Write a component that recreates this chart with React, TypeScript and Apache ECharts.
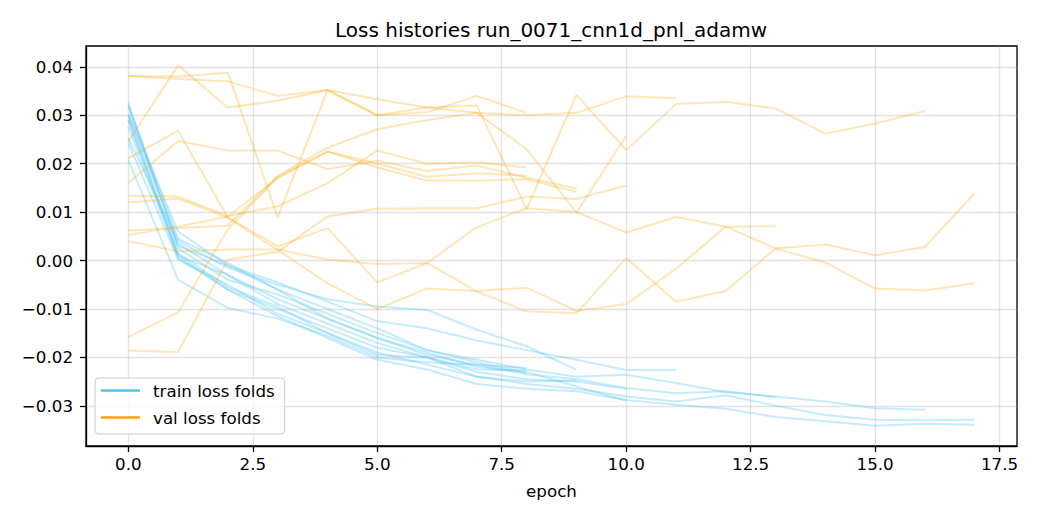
import React, { useEffect, useRef } from "react";
import * as echarts from "echarts";

// ---- data (epoch index = position in array) ----
const trainLoss: number[][] = [
  [0.0318, 0.0030, -0.0010, -0.0045, -0.0085, -0.0125, -0.0140, -0.0165, -0.0185, -0.0205, -0.0226, -0.0226],
  [0.0290, 0.0010, -0.0030, -0.0080, -0.0120, -0.0160, -0.0195, -0.0215, -0.0222],
  [0.0326, 0.0025, -0.0040, -0.0070, -0.0110, -0.0150, -0.0185, -0.0205, -0.0225, -0.0240, -0.0236, -0.0253, -0.0272, -0.0281, -0.0291, -0.0305, -0.0308],
  [0.0276, 0.0005, -0.0060, -0.0100, -0.0140, -0.0180, -0.0200, -0.0230, -0.0245, -0.0250, -0.0265],
  [0.0301, 0.0040, -0.0015, -0.0050, -0.0080, -0.0095, -0.0102, -0.0143, -0.0177, -0.0226],
  [0.0253, 0.0035, -0.0030, -0.0090, -0.0130, -0.0170, -0.0200, -0.0225, -0.0227],
  [0.0243, 0.0002, -0.0050, -0.0110, -0.0150, -0.0190, -0.0215, -0.0240, -0.0250, -0.0248],
  [0.0304, 0.0060, -0.0010, -0.0060, -0.0120, -0.0160, -0.0190, -0.0220, -0.0230, -0.0260, -0.0289],
  [0.0208, -0.0040, -0.0098, -0.0120, -0.0155, -0.0200, -0.0210, -0.0215, -0.0235, -0.0245, -0.0263, -0.0274, -0.0270, -0.0282],
  [0.0300, 0.0015, -0.0055, -0.0095, -0.0150, -0.0195, -0.0200, -0.0240, -0.0255, -0.0265, -0.0281, -0.0291, -0.0278, -0.0300, -0.0319, -0.0329, -0.0330, -0.0329],
  [0.0290, 0.0010, -0.0060, -0.0115, -0.0160, -0.0205, -0.0225, -0.0255, -0.0265, -0.0270, -0.0288, -0.0298, -0.0306, -0.0323, -0.0332, -0.0341, -0.0337, -0.0339],
  [0.0320, 0.0045, -0.0005, -0.0060, -0.0100, -0.0140, -0.0185, -0.0210, -0.0232],
];

const valLoss: number[][] = [
  [0.0381, 0.0375, 0.0370, 0.0340, 0.0352, 0.0333, 0.0316, 0.0305, 0.0300, 0.0305, 0.0339, 0.0335],
  [0.0381, 0.0380, 0.0388, 0.0089, 0.0352, 0.0300, 0.0306, 0.0340, 0.0305],
  [0.0246, 0.0403, 0.0316, 0.0330, 0.0352, 0.0300, 0.0316, 0.0320, 0.0106, 0.0342, 0.0228, 0.0323, 0.0328, 0.0314, 0.0262, 0.0283, 0.0309],
  [0.0062, 0.0067, 0.0072, 0.0175, 0.0233, 0.0271, 0.0290, 0.0305, 0.0230, 0.0099, 0.0257],
  [0.0160, 0.0247, 0.0227, 0.0227, 0.0189, 0.0206, 0.0185, 0.0196, 0.0171, 0.0149],
  [0.0134, 0.0132, 0.0092, 0.0112, 0.0160, 0.0227, 0.0200, 0.0203, 0.0192],
  [0.0053, 0.0070, 0.0091, 0.0170, 0.0225, 0.0192, 0.0165, 0.0165, 0.0168, 0.0142],
  [-0.0186, -0.0189, 0.0002, 0.0018, 0.0091, 0.0107, 0.0108, 0.0108, 0.0132, 0.0127, 0.0155],
  [0.0211, 0.0268, 0.0089, 0.0029, 0.0067, -0.0045, -0.0005, 0.0069, 0.0108, 0.0100, 0.0058, 0.0090, 0.0070, 0.0071],
  [0.0120, 0.0128, 0.0088, 0.0022, -0.0047, -0.0100, -0.0058, -0.0063, -0.0056, -0.0104, -0.0090, -0.0017, 0.0070, 0.0025, -0.0004, -0.0058, -0.0062, -0.0047],
  [0.0040, 0.0019, 0.0023, 0.0023, 0.0002, -0.0007, -0.0005, -0.0064, -0.0105, -0.0109, 0.0005, -0.0085, -0.0063, 0.0025, 0.0033, 0.0011, 0.0028, 0.0139],
  [-0.0158, -0.0107, 0.0064, 0.0172, 0.0225, 0.0200, 0.0173, 0.0180, 0.0175],
];

const xTicks = [0, 2.5, 5, 7.5, 10, 12.5, 15, 17.5];
const yTicks = [-0.03, -0.02, -0.01, 0, 0.01, 0.02, 0.03, 0.04];

const TITLE = "Loss histories run_0071_cnn1d_pnl_adamw";
const TRAIN_NAME = "train loss folds";
const VAL_NAME = "val loss folds";
const TRAIN_COLOR = "#4FC3F7";
const VAL_COLOR = "#FFA500";
const FONT = "DejaVu Sans";
const LEGEND_ICON = "path://M0,0 L39,0 L39,2.5 L0,2.5 Z";

function fmtX(v: number) {
  return v.toFixed(1);
}
function fmtY(v: number) {
  const r = Math.round(v * 100) / 100;
  if (Math.abs(r) < 1e-9) return "0.00";
  return (r < 0 ? "\u2212" : "") + Math.abs(r).toFixed(2);
}

export default function App() {
  const ref = useRef<HTMLDivElement>(null);

  useEffect(() => {
    if (!ref.current) return;
    const chart = echarts.init(ref.current, undefined, { renderer: "svg" });

    const series: any[] = [];
    trainLoss.forEach((vals, i) => {
      series.push({
        type: "line",
        name: `train fold ${i + 1}`,
        data: vals.map((v, e) => [e, v]),
        symbol: "none",
        showSymbol: false,
        silent: true,
        lineStyle: { color: TRAIN_COLOR, width: 2, opacity: 0.32 },
        itemStyle: { color: TRAIN_COLOR },
        z: 2,
      });
    });
    valLoss.forEach((vals, i) => {
      series.push({
        type: "line",
        name: `val fold ${i + 1}`,
        data: vals.map((v, e) => [e, v]),
        symbol: "none",
        showSymbol: false,
        silent: true,
        lineStyle: { color: VAL_COLOR, width: 2, opacity: 0.28 },
        itemStyle: { color: VAL_COLOR },
        z: 2,
      });
    });
    series.push({
      type: "line",
      name: TRAIN_NAME,
      data: [],
      symbol: "none",
      lineStyle: { color: TRAIN_COLOR, width: 2.5 },
      itemStyle: { color: TRAIN_COLOR },
    });
    series.push({
      type: "line",
      name: VAL_NAME,
      data: [],
      symbol: "none",
      lineStyle: { color: VAL_COLOR, width: 2.5 },
      itemStyle: { color: VAL_COLOR },
    });

    const axisCommon = {
      axisLine: { show: true, onZero: false, lineStyle: { color: "#000", width: 1.3 } },
      axisTick: { show: true, inside: false, length: 6, lineStyle: { color: "#000", width: 1.3 } },
      splitLine: { show: true, lineStyle: { color: "#b0b0b0", width: 1.3, opacity: 0.35 } },
    };

    chart.setOption({
      animation: false,
      backgroundColor: "#ffffff",
      textStyle: { fontFamily: FONT },
      grid: {
        left: 86,
        right: 23,
        top: 46,
        bottom: 74,
        show: true,
        borderColor: "#000",
        borderWidth: 1.3,
        backgroundColor: "transparent",
      },
      graphic: [
        {
          type: "text",
          x: 551,
          y: 30,
          style: {
            text: TITLE,
            fontFamily: FONT,
            fontSize: 20,
            fill: "#000",
            textAlign: "center",
            textVerticalAlign: "middle",
          },
        },
      ],
      legend: {
        data: [
          { name: TRAIN_NAME, icon: LEGEND_ICON, itemStyle: { color: TRAIN_COLOR, opacity: 1 } },
          { name: VAL_NAME, icon: LEGEND_ICON, itemStyle: { color: VAL_COLOR, opacity: 1 } },
        ],
        orient: "vertical",
        left: 95,
        top: 378,
        itemWidth: 39,
        itemHeight: 17,
        itemGap: 10,
        padding: [4, 10, 8, 6],
        backgroundColor: "rgba(255,255,255,0.8)",
        borderColor: "#cccccc",
        borderWidth: 1,
        borderRadius: 4,
        selectedMode: false,
        textStyle: { fontFamily: FONT, fontSize: 16.7, color: "#000", padding: [0, 0, 0, 8] },
      },
      xAxis: {
        type: "value",
        min: -0.85,
        max: 17.85,
        name: "epoch",
        nameLocation: "middle",
        nameGap: 36,
        nameTextStyle: { fontFamily: FONT, fontSize: 16.7, color: "#000" },
        ...axisCommon,
        axisTick: { ...axisCommon.axisTick, customValues: xTicks },
        axisLabel: {
          customValues: xTicks,
          formatter: fmtX,
          fontFamily: FONT,
          fontSize: 16.7,
          color: "#000",
          margin: 9,
        },
      },
      yAxis: {
        type: "value",
        min: -0.0383,
        max: 0.0443,
        ...axisCommon,
        axisTick: { ...axisCommon.axisTick, customValues: yTicks },
        axisLabel: {
          customValues: yTicks,
          formatter: fmtY,
          fontFamily: FONT,
          fontSize: 16.7,
          color: "#000",
          margin: 13,
        },
      },
      series,
    });

    return () => chart.dispose();
  }, []);

  return (
    <div
      ref={ref}
      style={{ position: "fixed", left: 0, top: 0, width: 1040, height: 520, background: "#fff" }}
    />
  );
}
